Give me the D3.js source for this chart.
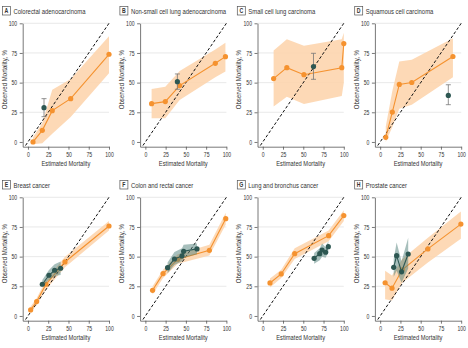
<!DOCTYPE html>
<html>
<head>
<meta charset="utf-8">
<script src="https://cdn.jsdelivr.net/npm/d3@7"></script>
<style>
  body { margin: 0; background: #fff; }
  svg text { font-family: "Liberation Sans", Arial, sans-serif; fill: #333; }
</style>
</head>
<body>
<div id="chart"></div>
<script>
// Panel titles
const letters = ["A", "B", "C", "D", "E", "F", "G", "H"];
const titles = [
    "Colorectal adenocarcinoma",
    "Non-small cell lung adenocarcinoma",
    "Small cell lung carcinoma",
    "Squamous cell carcinoma",
    "Breast cancer",
    "Colon and rectal cancer",
    "Lung and bronchus cancer",
    "Prostate cancer"
];
const axisTicks = [0, 25, 50, 75, 100];

// Orange series (one array per panel)
const orangeEst = [
    [6.2, 17.7, 30, 52.7, 100],
    [7.7, 24.6, 42.3, 86.3, 98.8],
    [13.4, 29.7, 50.8, 97.5, 100],
    [6.9, 15, 23.6, 39, 89.8],
    [3.3, 10.7, 22.2, 45.7, 100],
    [8.9, 21.8, 39.9, 79, 99.2],
    [8.9, 22.8, 39.4, 81.3, 100],
    [6.1, 14.6, 27.2, 58.9, 99.6]
];
const orangeObs = [
    [0, 9.8, 26.4, 36.5, 73.9],
    [32.3, 34, 47.5, 66.3, 71.9],
    [53.4, 62.6, 56.7, 62.6, 82.9],
    [3.9, 25.2, 48.5, 50.1, 72],
    [5.1, 12.1, 26.7, 45.5, 75.8],
    [21.6, 35.7, 47.8, 55.3, 82],
    [27.8, 35.4, 52.5, 67.7, 84.6],
    [28, 23.4, 38.9, 56.5, 77.4]
];
const orangeLow = [
    [-2, -1, 7, 21, 58],
    [20, 20, 35.4, 54.5, 59.3],
    [29.8, 38.2, 32, 38.8, 50],
    [0, 12.6, 28, 31.4, 54.6],
    [3, 9, 22, 41, 72],
    [18, 32, 44, 51, 77],
    [24, 32, 48, 63, 80],
    [14, 13, 28, 45, 65]
];
const orangeHigh = [
    [4, 16, 44, 53, 89],
    [44.7, 46.6, 59.8, 78, 83.7],
    [77, 86.5, 81, 86.5, 92],
    [13, 43, 67.8, 69.2, 87.4],
    [8, 15, 30, 50, 80],
    [25, 39, 52, 60, 87],
    [31.5, 39, 57, 72, 89],
    [38, 34, 48, 66, 88]
];

// Teal series (single point with error bar in A-D, line with band in E-H)
const tealEst = [
    [19.8], [39.5], [62.6], [84.1],
    [17.7, 25.9, 32.9, 40.3],
    [27.4, 35.9, 45.2, 47.2, 63.7],
    [63.4, 70.3, 73.2, 77.6, 80.9],
    [16.7, 20.3, 26.4, 34.6]
];
const tealObs = [
    [28.9], [50.8], [63.5], [39.2],
    [26.7, 34.3, 38.5, 40.2],
    [40.7, 48, 50.6, 54.5, 56.5],
    [48.6, 52.5, 55.6, 53.7, 58.4],
    [41, 50.8, 37.2, 52.2]
];
const tealLow = [
    [21.3], [44.4], [52.8], [31.4],
    [24.7, 30.3, 33.7, 34.6],
    [36, 43, 46, 49, 52],
    [44, 47, 50, 49, 54],
    [33, 38, 28, 40]
];
const tealHigh = [
    [36.5], [57.3], [74.7], [48.2],
    [30.3, 38.8, 43.5, 45.8],
    [45, 54, 57, 60, 61],
    [53, 57, 61, 58, 63],
    [48, 62, 46, 66]
];

const width = 468;
const height = 348;
const orange = "#f5922f";
const teal = "#2d5752";
const squeeze = 0.8; // condensed look for all text

const svg = d3.select("#chart")
    .append("svg")
    .attr("width", width)
    .attr("height", height);

// shared scales, each panel gets translated
const x = d3.scaleLinear().domain([-6.5, 100]).range([22.7, 109]);
const y = d3.scaleLinear().domain([-4, 100]).range([146.7, 23.3]);

const area = d3.area()
    .x(d => x(d.est))
    .y0(d => y(d.lo))
    .y1(d => y(d.hi));
const line = d3.line()
    .x(d => x(d.est))
    .y(d => y(d.obs));

// text helper: narrow the glyphs horizontally
function label(g, px, py, str, size, anchor, rotate) {
    return g.append("text")
        .attr("transform", `translate(${px}, ${py})${rotate ? " rotate(-90)" : ""} scale(${squeeze}, 1)`)
        .attr("text-anchor", anchor || "start")
        .attr("font-size", size)
        .text(str);
}

letters.forEach((letter, i) => {
    const col = i % 4;
    const row = Math.floor(i / 4);
    const g = svg.append("g")
        .attr("transform", `translate(${col * 117.4}, ${row * 174})`);

    // title with boxed letter
    g.append("rect")
        .attr("x", 2.5).attr("y", 6.5)
        .attr("width", 8).attr("height", 8.5)
        .attr("fill", "#fff")
        .attr("stroke", "#555")
        .attr("stroke-width", 0.7);
    label(g, 6.5, 13.3, letter, 6.5, "middle").attr("font-weight", "bold");
    label(g, 13.5, 13.6, titles[i], 7.4);

    // gridlines
    g.selectAll("line.grid")
        .data(axisTicks.slice(1))
        .join("line")
        .attr("class", "grid")
        .attr("x1", x.range()[0]).attr("x2", x(100))
        .attr("y1", d => y(d)).attr("y2", d => y(d))
        .attr("stroke", "#e3e3e3")
        .attr("stroke-width", 0.8);

    // axes
    const yAxis = g.append("g")
        .attr("transform", `translate(${x.range()[0]}, 0)`)
        .call(d3.axisLeft(y).tickValues(axisTicks).tickSize(3).tickSizeOuter(0).tickPadding(2));
    const xAxis = g.append("g")
        .attr("transform", `translate(0, ${y.range()[0]})`)
        .call(d3.axisBottom(x).tickValues(axisTicks).tickSize(3).tickSizeOuter(0).tickPadding(2.5));
    [xAxis, yAxis].forEach(a => {
        a.select(".domain").attr("stroke", "#555").attr("stroke-width", 0.8);
        a.selectAll(".tick line").attr("stroke", "#555").attr("stroke-width", 0.8);
        a.selectAll("text").attr("font-size", 6.4).attr("fill", "#333")
            .style("font-family", '"Liberation Sans", Arial, sans-serif');
    });
    // squeeze tick labels too (keep the gap to the axis)
    yAxis.selectAll("text")
        .attr("x", -5.5 / squeeze)
        .attr("transform", `scale(${squeeze}, 1)`);
    xAxis.selectAll("text")
        .attr("transform", `scale(${squeeze}, 1)`);

    // axis titles
    label(g, 6.5, (y(0) + y(100)) / 2 - 3, "Observed Mortality, %", 7.6, "middle", true);
    label(g, (x.range()[0] + x(100)) / 2, 166, "Estimated Mortality", 7.2, "middle");

    // orange band + line + dots
    const oData = orangeEst[i].map((e, k) => ({
        est: e, obs: orangeObs[i][k], lo: orangeLow[i][k], hi: orangeHigh[i][k]
    }));
    g.append("path")
        .datum(oData)
        .attr("d", area)
        .attr("fill", "#fdd5ae")
        .attr("opacity", 0.9);

    // dashed identity line
    g.append("line")
        .attr("x1", x(-3)).attr("y1", y(-3))
        .attr("x2", x(100)).attr("y2", y(100))
        .attr("stroke", "#111")
        .attr("stroke-width", 1)
        .attr("stroke-dasharray", "3,2");

    g.append("path")
        .datum(oData)
        .attr("d", line)
        .attr("fill", "none")
        .attr("stroke", orange)
        .attr("stroke-width", 1.1);
    g.selectAll("circle.orange")
        .data(oData)
        .join("circle")
        .attr("class", "orange")
        .attr("cx", d => x(d.est))
        .attr("cy", d => y(d.obs))
        .attr("r", 2.6)
        .attr("fill", orange);

    // teal series
    const tData = tealEst[i].map((e, k) => ({
        est: e, obs: tealObs[i][k], lo: tealLow[i][k], hi: tealHigh[i][k]
    }));
    if (tData.length === 1) {
        // single point with error bar
        const d = tData[0];
        const eb = g.append("g").attr("stroke", "#777").attr("stroke-width", 0.8);
        eb.append("line")
            .attr("x1", x(d.est)).attr("x2", x(d.est))
            .attr("y1", y(d.lo)).attr("y2", y(d.hi));
        [d.lo, d.hi].forEach(v => {
            eb.append("line")
                .attr("x1", x(d.est) - 2.5).attr("x2", x(d.est) + 2.5)
                .attr("y1", y(v)).attr("y2", y(v));
        });
    } else {
        g.append("path")
            .datum(tData)
            .attr("d", area)
            .attr("fill", "#4f7f7a")
            .attr("opacity", 0.5);
        g.append("path")
            .datum(tData)
            .attr("d", line)
            .attr("fill", "none")
            .attr("stroke", teal)
            .attr("stroke-width", 1.1);
    }
    g.selectAll("circle.teal")
        .data(tData)
        .join("circle")
        .attr("class", "teal")
        .attr("cx", d => x(d.est))
        .attr("cy", d => y(d.obs))
        .attr("r", 2.6)
        .attr("fill", teal);
});
</script>
</body>
</html>
